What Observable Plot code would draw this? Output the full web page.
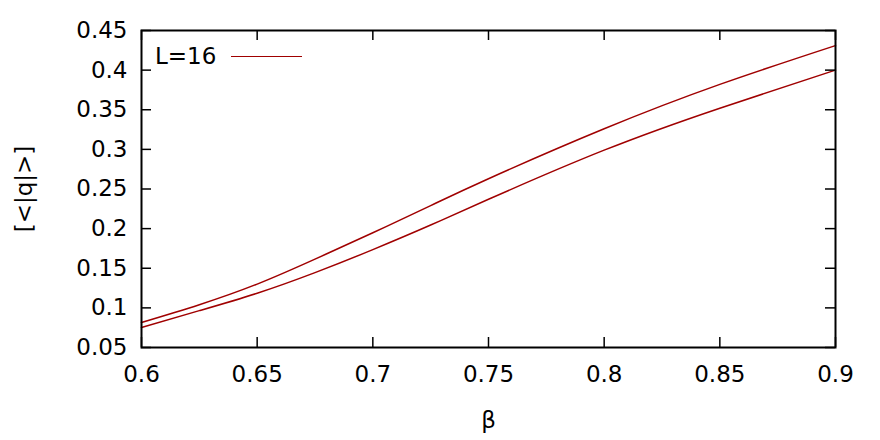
<!DOCTYPE html>
<html>
<head>
<meta charset="utf-8">
<script src="https://cdn.jsdelivr.net/npm/d3@7"></script>
<script src="https://cdn.jsdelivr.net/npm/@observablehq/plot@0.6"></script>
<style>
  html, body { margin: 0; padding: 0; background: #fff; }
  #wrap { position: relative; width: 880px; height: 440px; font-family: "DejaVu Sans", sans-serif; }
  #legend { position: absolute; left: 155px; top: 43px; font-size: 23px; display: flex; align-items: center; color: #000; }
  #legend .sw { display: inline-block; width: 71px; height: 0; border-top: 1.5px solid #a00000; margin-left: 15px; }
</style>
</head>
<body>
<div id="wrap"><div id="legend"><span>L=16</span><span class="sw"></span></div></div>
<script>
const beta = [0.6, 0.625, 0.65, 0.675, 0.7, 0.725, 0.75, 0.8, 0.85, 0.9];
const upper = [0.0816, 0.1040, 0.1300, 0.1615, 0.1948, 0.2290, 0.2630, 0.3260, 0.3820, 0.4310];
const lower = [0.0753, 0.0965, 0.1185, 0.1445, 0.1735, 0.2045, 0.2370, 0.2990, 0.3520, 0.4000];
const xTicks = [0.6, 0.65, 0.7, 0.75, 0.8, 0.85, 0.9];
const yTicks = [0.05, 0.1, 0.15, 0.2, 0.25, 0.3, 0.35, 0.4, 0.45];
const seriesNames = ["upper", "lower"];

const data = [];
beta.forEach((b, i) => {
  data.push({beta: b, q: upper[i], s: seriesNames[0]});
  data.push({beta: b, q: lower[i], s: seriesNames[1]});
});

const W = 880, H = 440, mL = 141, mR = 45, mT = 30, mB = 93;
const pw = W - mL - mR, ph = H - mT - mB, tl = 10;
const color = "#a00000";

const chart = Plot.plot({
  width: W, height: H,
  marginLeft: mL, marginRight: mR, marginTop: mT, marginBottom: mB,
  style: {fontFamily: "DejaVu Sans, sans-serif", fontSize: "23px", background: "#fff", color: "#000"},
  x: {domain: [0.6, 0.9]},
  y: {domain: [0.05, 0.45]},
  marks: [
    Plot.line(data, {x: "beta", y: "q", z: "s", stroke: color, strokeWidth: 1.5, curve: "natural"}),
    Plot.ruleX(xTicks, {stroke: "#000", strokeWidth: 1.5, insetTop: ph - tl}),
    Plot.ruleX(xTicks, {stroke: "#000", strokeWidth: 1.5, insetBottom: ph - tl}),
    Plot.ruleY(yTicks, {stroke: "#000", strokeWidth: 1.5, insetRight: pw - tl}),
    Plot.ruleY(yTicks, {stroke: "#000", strokeWidth: 1.5, insetLeft: pw - tl}),
    Plot.frame({stroke: "#000", strokeWidth: 2}),
    Plot.axisX({ticks: xTicks, tickSize: 0, tickPadding: 18, tickFormat: d => String(d),
      label: "β", labelAnchor: "center", labelArrow: "none", labelOffset: 80}),
    Plot.axisY({ticks: yTicks, tickSize: 0, tickPadding: 14, tickFormat: d => String(d),
      label: "[<|q|>]", labelAnchor: "center", labelArrow: "none", labelOffset: 126})
  ]
});
document.getElementById("wrap").prepend(chart);
</script>
</body>
</html>
